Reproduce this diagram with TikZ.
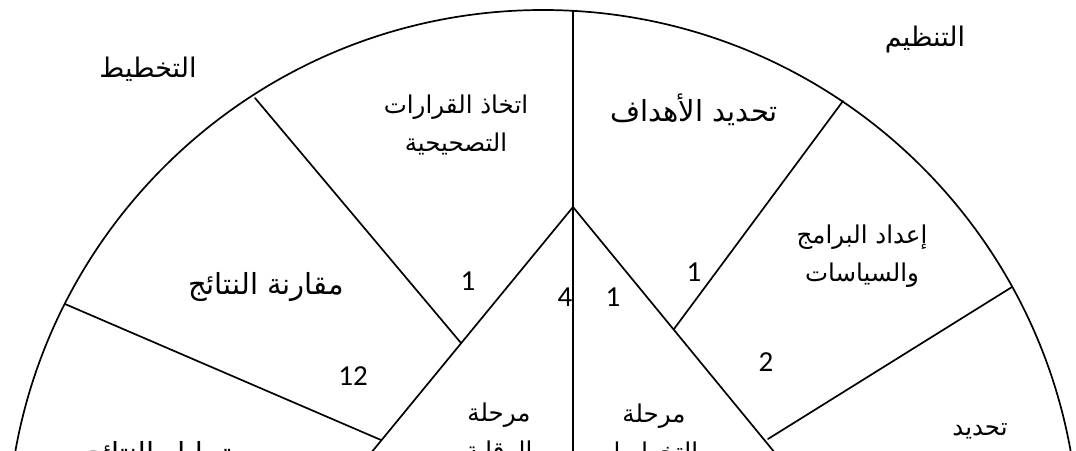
\documentclass[tikz,border=0pt]{standalone}
\usepackage{fontspec}
\setmainfont{Carlito}
\newfontfamily\arabicfont[Script=Arabic]{DejaVu Sans}
\newfontfamily\digitfont{Carlito}
\TeXXeTstate=1
\begin{document}
\begin{tikzpicture}[x=1pt,y=-1pt,
  edge/.style={line width=1.7pt, line cap=round},
  artitle/.style={font=\arabicfont\fontsize{27}{32}\selectfont, inner sep=0pt, align=center},
  arbig/.style={font=\arabicfont\fontsize{29}{39}\selectfont, inner sep=0pt, align=center},
  arsmall/.style={font=\arabicfont\fontsize{24.5}{38.5}\selectfont, inner sep=0pt, align=center},
  num/.style={font=\digitfont\fontsize{29}{34}\selectfont, inner sep=0pt}]
\useasboundingbox (0,0) rectangle (1076,450);
\clip (0,0) rectangle (1076,450);
% geometry
\coordinate (C) at (543,546);
\coordinate (top) at (573,10.8);
\coordinate (apex) at (573,207);
\coordinate (bot) at (573,470);
\coordinate (Lend) at (357,470);
\coordinate (Rend) at (789,470);
\coordinate (L1o) at (255,98);  \coordinate (L1i) at (461,343);
\coordinate (L2o) at (65,304);  \coordinate (L2i) at (381,440);
\coordinate (R1o) at (843,101); \coordinate (R1i) at (674,329);
\coordinate (R2o) at (1012,287);\coordinate (R2i) at (768,439);
\draw[edge] (C) circle[radius=536pt];
\draw[edge] (top) -- (bot);
\draw[edge] (Lend) -- (apex) -- (Rend);
\draw[edge] (L1o) -- (L1i);
\draw[edge] (L2o) -- (L2i);
\draw[edge] (R1o) -- (R1i);
\draw[edge] (R2o) -- (R2i);
% titles
\node[artitle] (plan) at (148,69) {\beginR التخطيط\endR};
\node[artitle] (org) at (925,39) {\beginR التنظيم\endR};
% sectors
\node[arsmall] (s1) at (456,125) {\beginR اتخاذ القرارات\endR\\\beginR التصحيحية\endR};
\node[arbig] (s2) at (694,110) {\beginR تحديد الأهداف\endR};
\node[arbig] (s3) at (266,287) {\beginR مقارنة النتائج\endR};
\node[arsmall] (s4) at (862,256) {\beginR إعداد البرامج\endR\\\beginR والسياسات\endR};
\node[arbig] (s5) at (158,456) {\beginR تحليل النتائج\endR};
\node[arsmall] (s6) at (980,431) {\beginR تحديد\endR};
\node[arsmall] (m1) at (499,434) {\beginR مرحلة\endR\\\beginR الرقابة\endR};
\node[arsmall] (m2) at (654,434) {\beginR مرحلة\endR\\\beginR التخطيط\endR};
% numbers
\node[num] (n1) at (468,281) {1};
\node[num] (n4) at (565,297) {4};
\node[num] (n1b) at (613,297) {1};
\node[num] (n1c) at (694,272) {1};
\node[num] (n12) at (353,376) {12};
\node[num] (n2) at (766,362) {2};
\end{tikzpicture}
\end{document}
